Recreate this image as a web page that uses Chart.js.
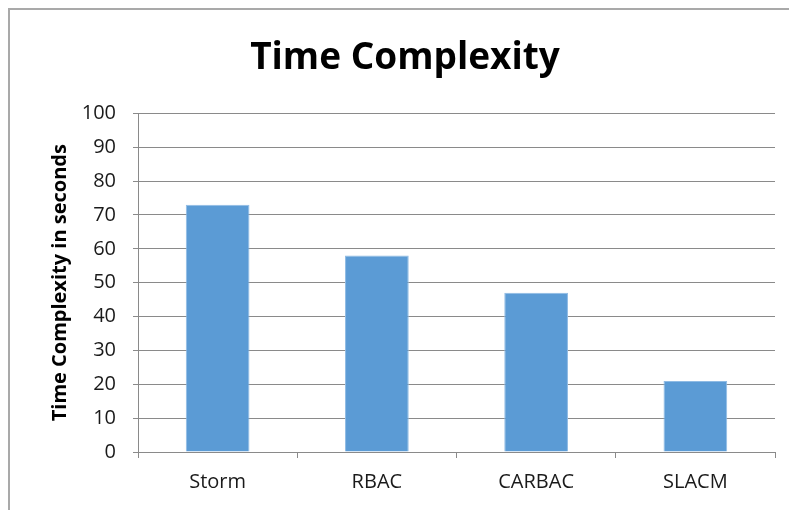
<!DOCTYPE html>
<html>
<head>
<meta charset="utf-8">
<script src="https://cdn.jsdelivr.net/npm/chart.js@4"></script>
<style>
    html, body { margin: 0; padding: 0; background: #fff; }
    #wrap { position: relative; width: 789px; height: 510px; overflow: hidden; }
    #frame {
        position: absolute; left: 8px; top: 8px; width: 900px; height: 600px;
        border-left: 2px solid #a9a9a9; border-top: 2px solid #a9a9a9;
    }
    #chart { position: absolute; left: 0; top: 0; }
</style>
</head>
<body>
<div id="wrap">
    <div id="frame"></div>
    <canvas id="chart" width="789" height="510"></canvas>
</div>
<script>
// ========== 数据 ==========
const categories = ['Storm', 'RBAC', 'CARBAC', 'SLACM'];
const timeValues = [73, 58, 47, 21];
const yTicks = [0, 10, 20, 30, 40, 50, 60, 70, 80, 90, 100];

const FONT = '"Open Sans", Lato, sans-serif';
const gridGray = '#8a8a8a';

const ctx = document.getElementById('chart').getContext('2d');

new Chart(ctx, {
    type: 'bar',
    data: {
        labels: categories,
        datasets: [{
            label: 'Time Complexity',
            data: timeValues,
            backgroundColor: '#5b9bd5',
            borderColor: '#8fbbe4',
            borderWidth: 1,
            categoryPercentage: 1,
            barPercentage: 0.4
        }]
    },
    options: {
        responsive: false,
        animation: false,
        layout: { padding: { left: 35, right: 14, top: 0, bottom: 0 } },
        plugins: {
            legend: { display: false },
            tooltip: { enabled: false },
            title: {
                display: true,
                text: 'Time Complexity',
                color: '#000',
                font: { family: FONT, size: 37, weight: 'bold' },
                padding: { top: 36, bottom: 33 }
            }
        },
        scales: {
            y: {
                min: 0,
                max: 100,
                afterBuildTicks: scale => { scale.ticks = yTicks.map(v => ({ value: v })); },
                afterFit: scale => { scale.width = 103; },
                border: { color: gridGray, width: 1 },
                grid: { color: gridGray, tickLength: 5, drawTicks: true },
                ticks: {
                    color: '#1a1a1a',
                    font: { family: FONT, size: 20 },
                    padding: 17
                },
                title: {
                    display: true,
                    text: 'Time Complexity in seconds',
                    color: '#000',
                    font: { family: FONT, size: 20, weight: 'bold' },
                    padding: { top: 13, bottom: 0 }
                }
            },
            x: {
                afterFit: scale => { scale.height = 58; },
                border: { color: gridGray, width: 1 },
                grid: {
                    color: gridGray,
                    offset: true,
                    drawOnChartArea: false,
                    drawTicks: true,
                    tickLength: 6
                },
                ticks: {
                    color: '#1a1a1a',
                    font: { family: FONT, size: 20 },
                    padding: 12
                }
            }
        }
    }
});
</script>
</body>
</html>
